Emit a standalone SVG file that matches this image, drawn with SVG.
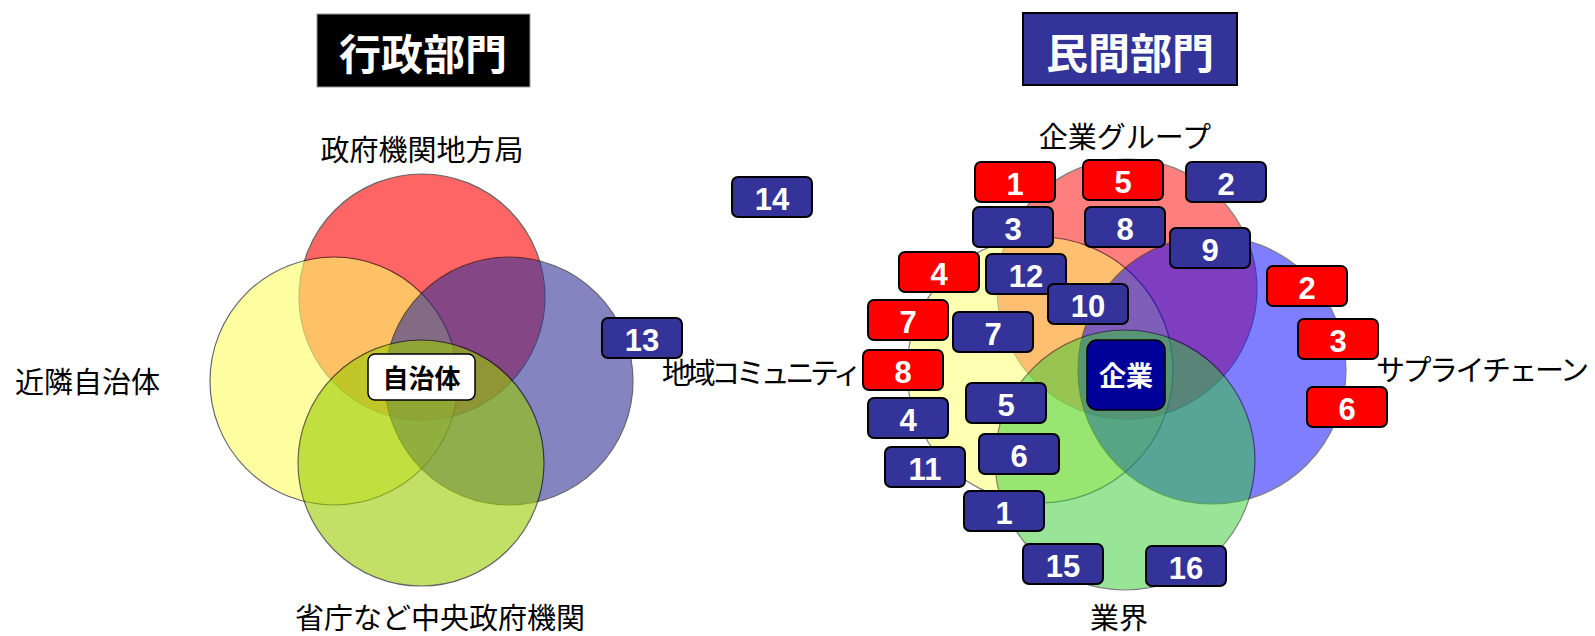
<svg xmlns="http://www.w3.org/2000/svg" width="1595" height="636" viewBox="0 0 1595 636">
<style>
.lab{font-family:"Noto Sans CJK JP","Noto Sans CJK SC",sans-serif;font-size:29px;fill:#000}
.ttl{font-family:"Noto Sans CJK JP","Noto Sans CJK SC",sans-serif;font-size:42px;font-weight:bold;fill:#fff}
.num{font-family:"Liberation Sans",Arial,sans-serif;font-size:31px;font-weight:bold;fill:#fff;text-anchor:middle}
.rb{fill:#ff0000;stroke:#000;stroke-width:2}
.bb{fill:#333399;stroke:#000;stroke-width:2}
.cl{stroke:#000;stroke-width:1.2;opacity:0.6}
.cr{stroke:#000;stroke-width:1.2;opacity:0.5}
</style>
<rect width="1595" height="636" fill="#fff"/>
<g id="left-venn">
<circle class="cl" cx="422" cy="297" r="123" fill="#ff0000"/>
<circle class="cl" cx="334" cy="381" r="124" fill="#ffff66"/>
<circle class="cl" cx="509" cy="381" r="124" fill="#333399"/>
<circle class="cl" cx="421" cy="463" r="123" fill="#99cc00"/>
</g>
<g id="right-venn">
<circle class="cr" cx="1127" cy="289" r="130" fill="#ff0000"/>
<circle class="cr" cx="1040" cy="370" r="133" fill="#ffff66"/>
<circle class="cr" cx="1212" cy="370" r="134" fill="#0000ff"/>
<circle class="cr" cx="1125" cy="460" r="130" fill="#33cc33"/>
</g>
<g id="connectors"/>
<g id="title-gov">
<rect x="317" y="14" width="213" height="73" fill="#000" stroke="#999" stroke-width="1"/>
<text class="ttl" x="423" y="70" text-anchor="middle">行政部門</text>
</g>
<g id="title-private">
<rect x="1023" y="13" width="214" height="72" fill="#333399" stroke="#000" stroke-width="2"/>
<text class="ttl" x="1130" y="69" text-anchor="middle">民間部門</text>
</g>
<g id="label-regional"><text class="lab" x="422" y="161" text-anchor="middle">政府機関地方局</text></g>
<g id="label-neighbor"><text class="lab" x="15" y="393">近隣自治体</text></g>
<g id="label-central"><text class="lab" x="440" y="629" text-anchor="middle">省庁など中央政府機関</text></g>
<g id="label-community"><text class="lab" x="662" y="384" textLength="200">地域コミュニティ</text></g>
<g id="label-group"><text class="lab" x="1125" y="148" text-anchor="middle">企業グループ</text></g>
<g id="label-supply"><text class="lab" x="1376" y="381" textLength="213">サプライチェーン</text></g>
<g id="label-industry"><text class="lab" x="1119" y="629" text-anchor="middle">業界</text></g>
<g id="node-jichitai">
<rect x="368" y="354" width="107" height="46" rx="7" fill="#fff" stroke="#000" stroke-width="1.5"/>
<text x="421.5" y="387.5" text-anchor="middle" style="font-family:'Noto Sans CJK JP','Noto Sans CJK SC',sans-serif;font-size:26px;font-weight:bold;fill:#000">自治体</text>
</g>
<g id="node-kigyo">
<rect x="1087" y="340" width="78" height="70" rx="10" fill="#000099" stroke="#000" stroke-width="1.5"/>
<text x="1126" y="386" text-anchor="middle" style="font-family:'Noto Sans CJK JP','Noto Sans CJK SC',sans-serif;font-size:27px;font-weight:bold;fill:#fff">企業</text>
</g>
<g id="b13"><rect class="bb" x="602" y="318" width="80" height="40" rx="6"/><text class="num" x="642" y="351">13</text></g>
<g id="b14"><rect class="bb" x="732" y="177" width="80" height="40" rx="6"/><text class="num" x="772" y="210">14</text></g>
<g id="r1"><rect class="rb" x="975" y="162" width="80" height="40" rx="6"/><text class="num" x="1015" y="195">1</text></g>
<g id="r5"><rect class="rb" x="1083" y="160" width="80" height="40" rx="6"/><text class="num" x="1123" y="193">5</text></g>
<g id="b2"><rect class="bb" x="1186" y="162" width="80" height="40" rx="6"/><text class="num" x="1226" y="195">2</text></g>
<g id="b3"><rect class="bb" x="973" y="207" width="80" height="40" rx="6"/><text class="num" x="1013" y="240">3</text></g>
<g id="b8"><rect class="bb" x="1085" y="207" width="80" height="40" rx="6"/><text class="num" x="1125" y="240">8</text></g>
<g id="b9"><rect class="bb" x="1170" y="228" width="80" height="40" rx="6"/><text class="num" x="1210" y="261">9</text></g>
<g id="r4"><rect class="rb" x="899" y="252" width="80" height="40" rx="6"/><text class="num" x="939" y="285">4</text></g>
<g id="b12"><rect class="bb" x="986" y="254" width="80" height="40" rx="6"/><text class="num" x="1026" y="287">12</text></g>
<g id="b10"><rect class="bb" x="1048" y="284" width="80" height="40" rx="6"/><text class="num" x="1088" y="317">10</text></g>
<g id="r2"><rect class="rb" x="1267" y="266" width="80" height="40" rx="6"/><text class="num" x="1307" y="299">2</text></g>
<g id="r7"><rect class="rb" x="868" y="300" width="80" height="40" rx="6"/><text class="num" x="908" y="333">7</text></g>
<g id="b7"><rect class="bb" x="953" y="312" width="80" height="40" rx="6"/><text class="num" x="993" y="345">7</text></g>
<g id="r3"><rect class="rb" x="1298" y="319" width="80" height="40" rx="6"/><text class="num" x="1338" y="352">3</text></g>
<g id="r8"><rect class="rb" x="863" y="350" width="80" height="40" rx="6"/><text class="num" x="903" y="383">8</text></g>
<g id="b5"><rect class="bb" x="966" y="383" width="80" height="40" rx="6"/><text class="num" x="1006" y="416">5</text></g>
<g id="r6"><rect class="rb" x="1307" y="387" width="80" height="40" rx="6"/><text class="num" x="1347" y="420">6</text></g>
<g id="b4"><rect class="bb" x="868" y="398" width="80" height="40" rx="6"/><text class="num" x="908" y="431">4</text></g>
<g id="b6"><rect class="bb" x="979" y="434" width="80" height="40" rx="6"/><text class="num" x="1019" y="467">6</text></g>
<g id="b11"><rect class="bb" x="885" y="447" width="80" height="40" rx="6"/><text class="num" x="925" y="480">11</text></g>
<g id="b1"><rect class="bb" x="964" y="491" width="80" height="40" rx="6"/><text class="num" x="1004" y="524">1</text></g>
<g id="b15"><rect class="bb" x="1023" y="544" width="80" height="40" rx="6"/><text class="num" x="1063" y="577">15</text></g>
<g id="b16"><rect class="bb" x="1146" y="546" width="80" height="40" rx="6"/><text class="num" x="1186" y="579">16</text></g>
</svg>
